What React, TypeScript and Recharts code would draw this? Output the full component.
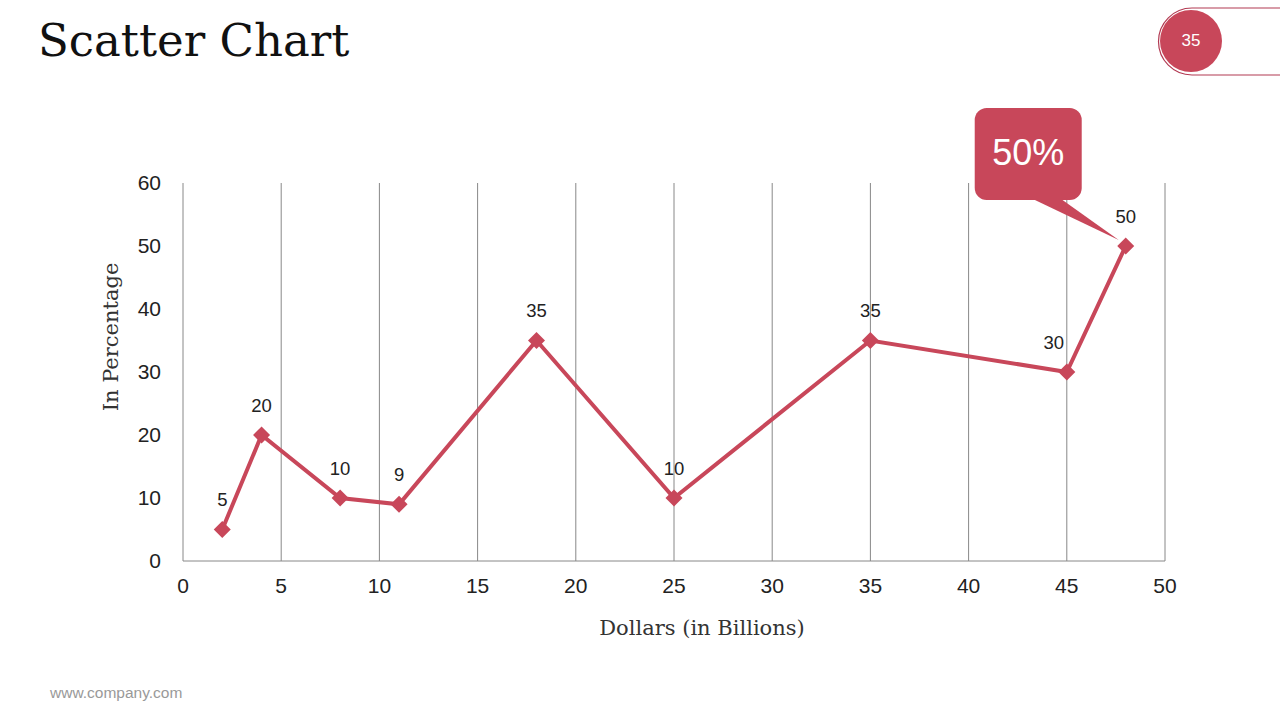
import React from "react";
import {
  ScatterChart,
  Scatter,
  XAxis,
  YAxis,
  CartesianGrid,
  ReferenceDot,
} from "recharts";

const xValues = [2, 4, 8, 11, 18, 25, 35, 45, 48];
const yValues = [5, 20, 10, 9, 35, 10, 35, 30, 50];
const xTicks = [0, 5, 10, 15, 20, 25, 30, 35, 40, 45, 50];
const yTicks = [0, 10, 20, 30, 40, 50, 60];
const calloutText = "50%";
const pageNumber = "35";
const xAxisTitle = "Dollars (in Billions)";
const yAxisTitle = "In Percentage";

const data = xValues.map((x, i) => ({ x, y: yValues[i] }));

const RED = "#C8475A";
const SANS = "'Liberation Sans', Arial, sans-serif";
const SERIF = "'DejaVu Serif', Georgia, serif";

const DiamondShape = (props: any) => {
  const { cx, cy, payload } = props;
  if (cx == null || cy == null) return null;
  const r = 8.5;
  const isLeft = payload && payload.x === 45;
  return (
    <g>
      <path
        d={`M${cx},${cy - r} L${cx + r},${cy} L${cx},${cy + r} L${cx - r},${cy} Z`}
        fill={RED}
      />
      <text
        x={isLeft ? cx - 13 : cx}
        y={cy - 28}
        textAnchor="middle"
        dominantBaseline="middle"
        fontFamily={SANS}
        fontSize={18.5}
        fill="#222"
      >
        {payload ? payload.y : ""}
      </text>
    </g>
  );
};

const Callout = (props: any) => {
  const { cx, cy } = props;
  if (cx == null || cy == null) return null;
  const left = cx - 151;
  const right = cx - 44;
  const top = cy - 138;
  const bottom = cy - 46;
  return (
    <g>
      <path
        d={`M${cx - 95},${bottom - 2} L${cx - 7},${cy - 6} L${cx - 66},${bottom - 2} Z`}
        fill={RED}
      />
      <rect x={left} y={top} width={right - left} height={bottom - top} rx={12} ry={12} fill={RED} />
      <text
        x={(left + right) / 2}
        y={(top + bottom) / 2 + 1}
        textAnchor="middle"
        dominantBaseline="middle"
        fontFamily={SANS}
        fontSize={36}
        fill="#fff"
      >
        {calloutText}
      </text>
    </g>
  );
};

const YTitle = (props: any) => {
  const vb = props.viewBox || {};
  const x = vb.x - 11;
  const y = vb.y + vb.height / 2 - 35;
  return (
    <text
      x={x}
      y={y}
      transform={`rotate(-90, ${x}, ${y})`}
      textAnchor="middle"
      dominantBaseline="middle"
      fontFamily={SERIF}
      fontSize={21}
      fill="#333"
    >
      {yAxisTitle}
    </text>
  );
};

const XTitle = (props: any) => {
  const vb = props.viewBox || {};
  const x = vb.x + vb.width / 2 + 28;
  const y = vb.y + 68;
  return (
    <text
      x={x}
      y={y}
      textAnchor="middle"
      dominantBaseline="middle"
      fontFamily={SERIF}
      fontSize={21}
      fill="#333"
    >
      {xAxisTitle}
    </text>
  );
};

export default function App() {
  return (
    <div
      style={{
        position: "absolute",
        left: 0,
        top: 0,
        width: 1280,
        height: 720,
        background: "#fff",
        overflow: "hidden",
      }}
    >
      <div
        style={{
          position: "absolute",
          left: 38,
          top: 9,
          fontFamily: SERIF,
          fontSize: 45,
          color: "#111",
          lineHeight: "64px",
          whiteSpace: "nowrap",
        }}
      >
        Scatter Chart
      </div>
      <svg
        width={1280}
        height={90}
        style={{ position: "absolute", left: 0, top: 0 }}
      >
        <path
          d="M1300,8 L1192,8 A33.5,33.5 0 0 0 1192,75 L1300,75"
          fill="none"
          stroke="#B23A52"
          strokeWidth={1.2}
        />
        <circle cx={1191} cy={41} r={31} fill={RED} />
        <text
          x={1191}
          y={42}
          textAnchor="middle"
          dominantBaseline="middle"
          fontFamily={SANS}
          fontSize={17}
          fill="#fff"
        >
          {pageNumber}
        </text>
      </svg>
      <div
        style={{
          position: "absolute",
          left: 50,
          top: 684,
          fontFamily: SANS,
          fontSize: 15.5,
          color: "#999",
        }}
      >
        www.company.com
      </div>
      <div style={{ position: "absolute", left: 0, top: 0 }}>
        <ScatterChart
          width={1280}
          height={720}
          margin={{ top: 183, right: 115, bottom: 119, left: 123 }}
        >
          <CartesianGrid horizontal={false} vertical stroke="#888" strokeWidth={1} />
          <XAxis
            type="number"
            dataKey="x"
            domain={[0, 50]}
            ticks={xTicks}
            interval={0}
            height={40}
            axisLine={{ stroke: "#888" }}
            tickLine={false}
            tick={{ fill: "#222", fontSize: 21, fontFamily: SANS }}
            tickMargin={11}
            label={<XTitle />}
          />
          <YAxis
            type="number"
            dataKey="y"
            domain={[0, 60]}
            ticks={yTicks}
            interval={0}
            width={60}
            axisLine={false}
            tickLine={false}
            tick={{ fill: "#222", fontSize: 21, fontFamily: SANS }}
            tickMargin={16}
            label={<YTitle />}
          />
          <Scatter
            data={data}
            fill={RED}
            line={{ stroke: RED, strokeWidth: 4 }}
            lineType="joint"
            shape={DiamondShape}
            isAnimationActive={false}
          />
          <ReferenceDot x={48} y={50} shape={Callout} />
        </ScatterChart>
      </div>
    </div>
  );
}
